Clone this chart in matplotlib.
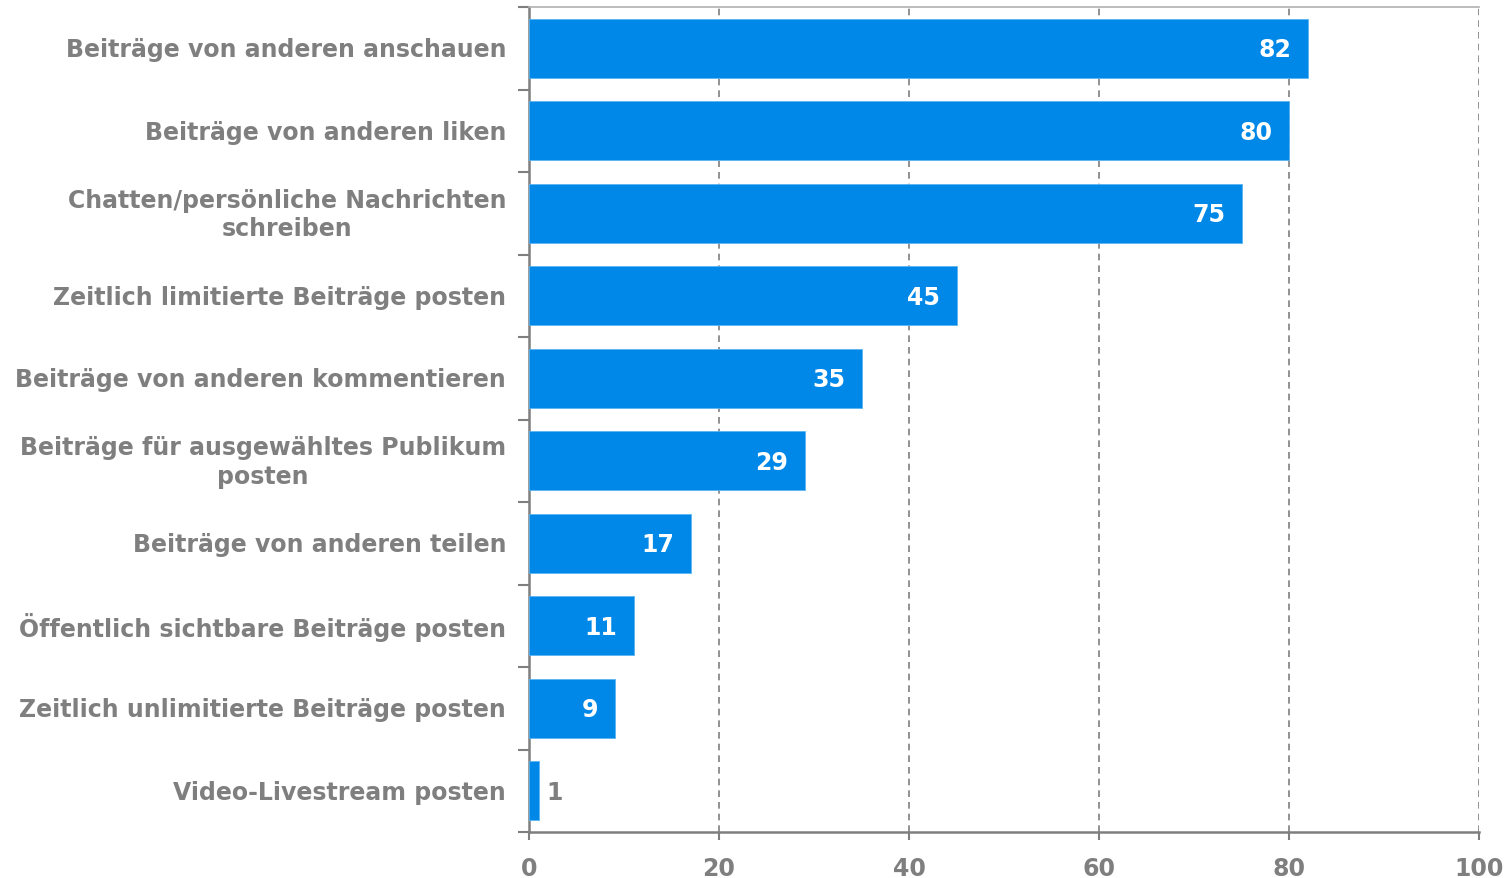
import matplotlib.pyplot as plt
import numpy as np

categories = [
    "Beiträge von anderen anschauen",
    "Beiträge von anderen liken",
    "Chatten/persönliche Nachrichten\nschreiben",
    "Zeitlich limitierte Beiträge posten",
    "Beiträge von anderen kommentieren",
    "Beiträge für ausgewähltes Publikum\nposten",
    "Beiträge von anderen teilen",
    "Öffentlich sichtbare Beiträge posten",
    "Zeitlich unlimitierte Beiträge posten",
    "Video-Livestream posten",
]
values = [82, 80, 75, 45, 35, 29, 17, 11, 9, 1]
xticks = [0, 20, 40, 60, 80, 100]

blue = "#0088e8"
grey = "#7f7f7f"
fs = 17

fig = plt.figure(figsize=(15.05, 8.79), dpi=100)
ax = fig.add_axes([529 / 1505, 1 - 833 / 879, 950 / 1505, 825 / 879])

y = np.arange(len(categories))
ax.barh(y, values, height=0.72, color=blue, edgecolor="#5ab4f0", linewidth=0.6, zorder=3)

for yi, v in zip(y, values):
    if v >= 5:
        ax.text(v - 1.7, yi + 0.01, str(v), ha="right", va="center", color="white",
                fontsize=fs, fontweight="bold", zorder=4)
    else:
        ax.text(v + 0.8, yi + 0.01, str(v), ha="left", va="center", color=grey,
                fontsize=fs, fontweight="bold", zorder=4)

ax.set_xlim(0, 100)
ax.set_ylim(len(categories) - 0.52, -0.48)

ax.set_xticks(xticks)
ax.set_xticklabels([str(t) for t in xticks], fontsize=fs, fontweight="bold", color=grey)
ax.tick_params(axis="x", direction="out", length=6, width=1.5, color=grey, pad=11)

# labels in the middle of each band, ticks on the band borders
ax.set_yticks(np.arange(len(categories) + 1) - 0.5)
ax.set_yticklabels([])
ax.tick_params(axis="y", direction="out", length=8, width=1.5, color=grey)
for yi, lab in zip(y, categories):
    ax.text(-2.4, yi + 0.01, lab, ha="right", va="center", color=grey, fontsize=fs,
            fontweight="bold", multialignment="center", linespacing=1.22,
            transform=ax.transData, clip_on=False)

ax.grid(axis="x", linestyle=(0, (4, 3)), color=grey, linewidth=1.2, zorder=0)
for s in ["left", "bottom"]:
    ax.spines[s].set_color(grey)
    ax.spines[s].set_linewidth(1.8)
ax.spines["top"].set_color("#b0b0b0")
ax.spines["top"].set_linewidth(1.2)
ax.spines["right"].set_visible(False)

fig.savefig("out.png", dpi=100)
